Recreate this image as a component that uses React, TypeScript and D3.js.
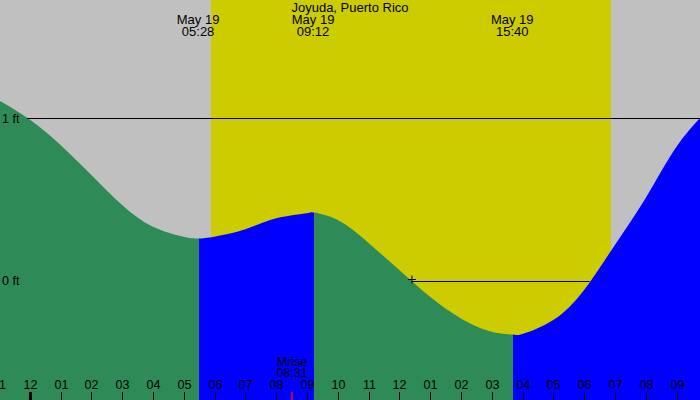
import * as d3 from "d3";

const title = "Joyuda, Puerto Rico";

// tide height (ft), hours after midnight May 19
const tideHours = [-1, 0, 1, 2, 3, 4, 5, 5.467, 6, 7, 8, 9, 9.2, 10, 11, 12, 13, 14, 15, 15.667, 16, 17, 18, 19, 20, 21, 22];
const tideFeet = [1.112, 0.994, 0.837, 0.652, 0.468, 0.334, 0.273, 0.262, 0.273, 0.318, 0.386, 0.417, 0.422, 0.375, 0.234, 0.068, -0.097, -0.23, -0.312, -0.329, -0.326, -0.24, -0.055, 0.222, 0.511, 0.826, 1.05];

// high / low tide events
const eventDates = ["May 19", "May 19", "May 19"];
const eventTimes = ["05:28", "09:12", "15:40"];
const eventHours = [5.467, 9.2, 15.667];

const sunrise = 5.883;
const sunset = 18.867;
const moonrise = 8.517;
const moonriseLabel = "08:31";

const tickHours = d3.range(-1, 23);
const levelTicks = [0, 1];
const crossStart = 12.41;
const crossEnd = 18.18;

const W = 700;
const H = 400;

const App = () => {
  const x = d3.scaleLinear().domain([0, 21]).range([29.7, 676.5]);
  const y = d3.scaleLinear().domain([0, 1]).range([281, 118.5]);

  const pts = tideHours.map((h, i) => [h, tideFeet[i]] as [number, number]);
  const area = d3
    .area<[number, number]>()
    .x((d) => x(d[0]))
    .y0(H)
    .y1((d) => y(d[1]))
    .curve(d3.curveNatural);
  const areaPath = area(pts) || "";

  // falling = green, rising = blue
  const bounds = [x(-2), ...eventHours.map((h) => Math.ceil(x(h))), W + 20];
  const segColors = ["#2e8b57", "#0000ff", "#2e8b57", "#0000ff"];

  const fmtHour = (h: number) => {
    const v = ((h % 12) + 12) % 12;
    return d3.format("02d")(v === 0 ? 12 : v);
  };

  const font = "'Liberation Sans', Arial, sans-serif";

  return (
    <svg width={W} height={H} style={{ position: "absolute", left: 0, top: 0 }} fontFamily={font}>
      <defs>
        {segColors.map((_, i) => (
          <clipPath id={"seg" + i} key={i}>
            <rect x={bounds[i]} y={0} width={bounds[i + 1] - bounds[i]} height={H} />
          </clipPath>
        ))}
      </defs>
      <rect x={0} y={0} width={W} height={H} fill="#c0c0c0" />
      <rect x={Math.round(x(sunrise))} y={0} width={Math.round(x(sunset)) - Math.round(x(sunrise))} height={H} fill="#cccc00" />
      {segColors.map((c, i) => (
        <path key={i} d={areaPath} fill={c} clipPath={`url(#seg${i})`} />
      ))}

      {/* level lines and labels */}
      <line x1={27} x2={W} y1={y(1)} y2={y(1)} stroke="#000" strokeWidth={1} />
      {levelTicks.map((v) => (
        <text key={v} x={2} y={y(v) + 4} fontSize={12.5} fill="#000">
          {v} ft
        </text>
      ))}

      {/* crosshair marker */}
      <line x1={x(crossStart)} x2={x(crossEnd)} y1={y(0) + 0.5} y2={y(0) + 0.5} stroke="#000" strokeWidth={1} />
      <g stroke="#000" strokeWidth={1}>
        <line x1={x(crossStart) - 4} x2={x(crossStart) + 4} y1={y(0) - 1.5} y2={y(0) - 1.5} />
        <line x1={x(crossStart)} x2={x(crossStart)} y1={y(0) - 5.5} y2={y(0) + 2.5} />
      </g>

      {/* title and tide events */}
      <text x={350} y={12} textAnchor="middle" fontSize={13}>
        {title}
      </text>
      {eventHours.map((h, i) => (
        <g key={i} transform={`translate(${x(h)},0)`} fontSize={13} textAnchor="middle">
          <text y={24}>{eventDates[i]}</text>
          <text y={36}>{eventTimes[i]}</text>
        </g>
      ))}

      {/* hour axis */}
      {tickHours.map((h) => (
        <g key={h} transform={`translate(${Math.round(x(h)) + 0.5},0)`}>
          <line y1={392} y2={H} stroke="#000" strokeWidth={h === 0 ? 3 : 1} />
          <text y={389} textAnchor="middle" fontSize={12.5}>
            {fmtHour(h)}
          </text>
        </g>
      ))}

      {/* moonrise */}
      <line x1={x(moonrise)} x2={x(moonrise)} y1={392} y2={H} stroke="#ff0000" strokeWidth={1.5} />
      <g transform={`translate(${x(moonrise)},0)`} textAnchor="middle" fontSize={12.5}>
        <text y={366}>Mrise</text>
        <text y={377}>{moonriseLabel}</text>
      </g>
    </svg>
  );
};

export default App;
